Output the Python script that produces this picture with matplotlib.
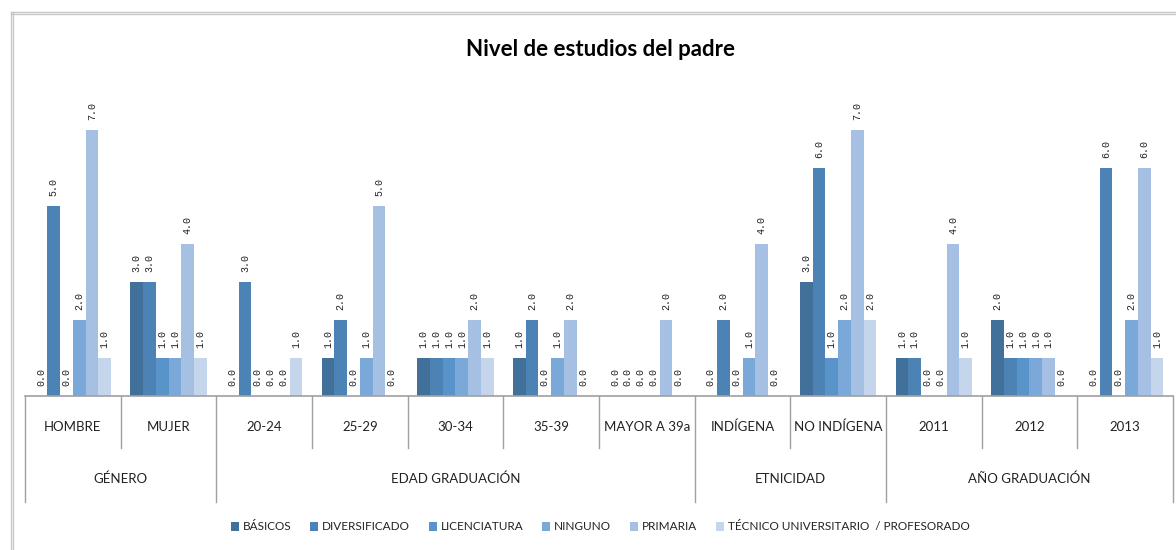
import numpy as np
import matplotlib
matplotlib.use("Agg")
import matplotlib.pyplot as plt
from matplotlib.lines import Line2D
from matplotlib import transforms

plt.rcParams['font.family'] = ['Lato', 'DejaVu Sans']

categories = ['HOMBRE', 'MUJER', '20-24', '25-29', '30-34', '35-39', 'MAYOR A 39a',
              'INDÍGENA', 'NO INDÍGENA', '2011', '2012', '2013']
groups = ['GÉNERO', 'EDAD GRADUACIÓN', 'ETNICIDAD', 'AÑO GRADUACIÓN']
group_sizes = [2, 5, 2, 3]

series = ['BÁSICOS', 'DIVERSIFICADO', 'LICENCIATURA', 'NINGUNO', 'PRIMARIA',
          'TÉCNICO UNIVERSITARIO  / PROFESORADO']
basicos       = [0, 3, 0, 1, 1, 1, 0, 0, 3, 1, 2, 0]
diversificado = [5, 3, 3, 2, 1, 2, 0, 2, 6, 1, 1, 6]
licenciatura  = [0, 1, 0, 0, 1, 0, 0, 0, 1, 0, 1, 0]
ninguno       = [2, 1, 0, 1, 1, 1, 0, 1, 2, 0, 1, 2]
primaria      = [7, 4, 0, 5, 2, 2, 2, 4, 7, 4, 1, 6]
tecnico       = [1, 1, 1, 0, 1, 0, 0, 0, 2, 1, 0, 1]
values = [basicos, diversificado, licenciatura, ninguno, primaria, tecnico]

colors = ['#41709B', '#4D83B4', '#5894CA', '#7AA8D8', '#A6C0E4', '#C5D5EB']

W, H = 1176, 550
fig = plt.figure(figsize=(W / 100, H / 100), dpi=100)
ax_l, ax_r, ax_b, ax_t = 25, 1173, 396, 92
ax = fig.add_axes([ax_l / W, 1 - ax_b / H, (ax_r - ax_l) / W, (ax_b - ax_t) / H])

n = len(series)
bw = 0.8 / n
x = np.arange(len(categories))
for i, (vals, c) in enumerate(zip(values, colors)):
    pos = x - 0.4 + bw * (i + 0.5)
    ax.bar(pos, vals, width=bw, color=c, label=series[i], edgecolor='none')
    for p, v in zip(pos, vals):
        ax.annotate(f'{v:.1f}', (p, v), xytext=(0, 7), textcoords='offset points',
                    rotation=90, ha='center', va='bottom', fontsize=7.2,
                    family='Liberation Mono', color='#222222')

ax.set_xlim(-0.5, len(categories) - 0.5)
ax.set_ylim(0, 8)
ax.set_xticks([])
ax.set_yticks([])
for s in ['left', 'right', 'top']:
    ax.spines[s].set_visible(False)
ax.spines['bottom'].set_color('#A0A0A0')
ax.spines['bottom'].set_linewidth(1.2)

# axis-fraction positions for the label rows below the plot
axh = ax_b - ax_t
def yf(py):
    return -(py - ax_b) / axh

trans = transforms.blended_transform_factory(ax.transData, ax.transAxes)
sep_col = '#A0A0A0'
for i, cat in enumerate(categories):
    ax.text(i, yf(427), cat, transform=trans, ha='center', va='center', fontsize=9.5, color='#222222')

bounds = np.cumsum([0] + group_sizes) - 0.5
for b in bounds:
    ax.plot([b, b], [0, yf(502)], transform=trans, color=sep_col, lw=1, clip_on=False)
for i in range(len(categories) + 1):
    b = i - 0.5
    if b not in bounds:
        ax.plot([b, b], [0, yf(448)], transform=trans, color=sep_col, lw=1, clip_on=False)
for g, a, b in zip(groups, bounds[:-1], bounds[1:]):
    ax.text((a + b) / 2, yf(479), g, transform=trans, ha='center', va='center', fontsize=9.5, color='#222222')

fig.text(600 / W, 1 - 50 / H, 'Nivel de estudios del padre', ha='center', va='center',
         fontsize=16, fontweight='bold')

leg = fig.legend(loc='center', bbox_to_anchor=(600 / W, 1 - 527 / H), ncol=6, frameon=False,
                 fontsize=8.5, handlelength=0.7, handleheight=0.7, handletextpad=0.3,
                 columnspacing=1.6)
for t in leg.get_texts():
    t.set_color('#222222')

# outer chart frame
for y0 in (12, 14):
    fig.add_artist(Line2D([11 / W, 1], [1 - y0 / H, 1 - y0 / H], color='#C8C8C8', lw=1))
for x0 in (11, 13):
    fig.add_artist(Line2D([x0 / W, x0 / W], [1 - 12 / H, 0], color='#C8C8C8', lw=1))

fig.savefig('out.png', dpi=100)
